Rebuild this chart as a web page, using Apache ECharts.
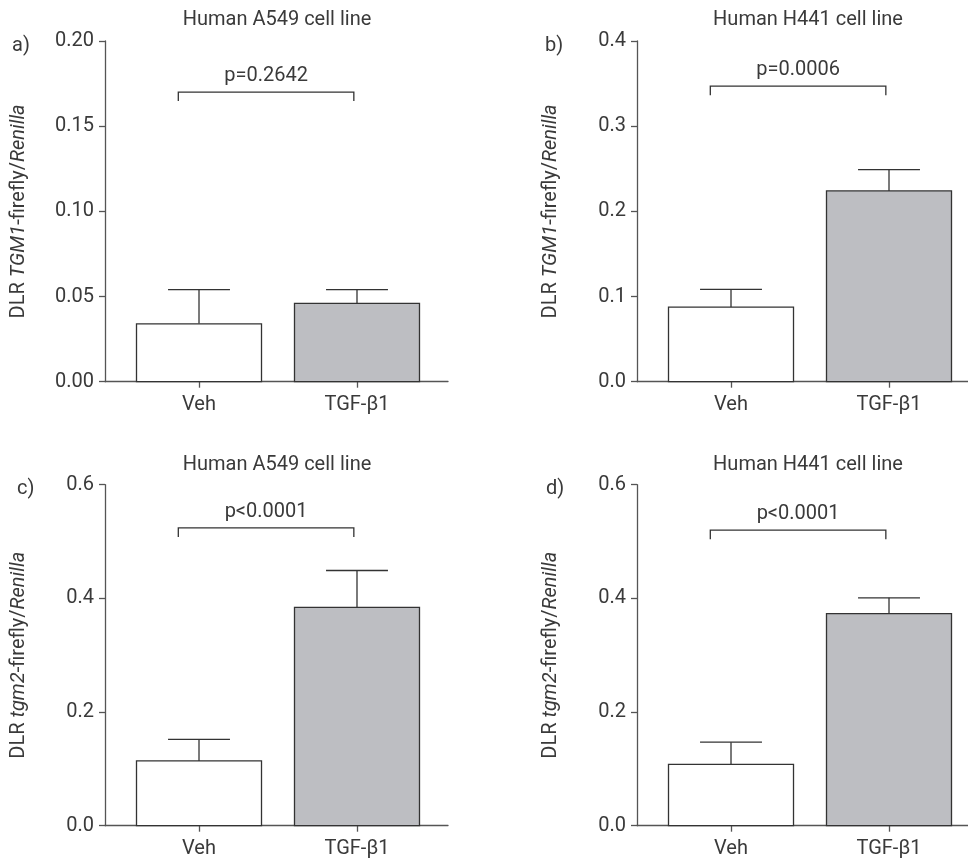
<!DOCTYPE html>
<html>
<head>
<meta charset="utf-8">
<script src="https://cdn.jsdelivr.net/npm/echarts@6/dist/echarts.min.js"></script>
<style>
html,body{margin:0;padding:0;background:#fff;}
#chart{width:968px;height:864px;}
</style>
</head>
<body>
<div id="chart"></div>
<script>
// ---- data ----
var categories = ['Veh', 'TGF-\u03B21'];
var categoryPos = [1, 2];
var panelTitles = ['Human A549 cell line', 'Human H441 cell line', 'Human A549 cell line', 'Human H441 cell line'];
var panelLetters = ['a)', 'b)', 'c)', 'd)'];
var yNames = [
  '{n|DLR }{i|TGM1}{n|-firefly/}{i|Renilla}',
  '{n|DLR }{i|TGM1}{n|-firefly/}{i|Renilla}',
  '{n|DLR }{i|tgm2}{n|-firefly/}{i|Renilla}',
  '{n|DLR }{i|tgm2}{n|-firefly/}{i|Renilla}'
];
var meanA = [0.034, 0.046];
var semA  = [0.020, 0.008];
var meanB = [0.0875, 0.224];
var semB  = [0.021, 0.025];
var meanC = [0.114, 0.384];
var semC  = [0.038, 0.065];
var meanD = [0.108, 0.373];
var semD  = [0.039, 0.028];
var yMax = [0.20, 0.4, 0.6, 0.6];
var yStep = [0.05, 0.1, 0.2, 0.2];
var yDecimals = [2, 1, 1, 1];
var pLabels = ['p=0.2642', 'p=0.0006', 'p<0.0001', 'p<0.0001'];
var bracketY = [0.170, 0.347, 0.524, 0.520];
var bracketX = [0.869, 1.980];

// ---- styles / layout ----
var FONT = 'Roboto';
var FS = 20;
var TXT = '#3a3a3a';
var AXIS = '#555555';
var EDGE = '#333333';
var FILLS = ['#ffffff', '#bdbec2'];
var BAR_HW = 0.3956;   // half bar width (axis units)
var CAP_HW = 0.196;    // half cap width (axis units)
var LEG_PX = 9;

var grids = [
  {left: 105, top: 41,    width: 343, height: 340.7},
  {left: 637, top: 41,    width: 331, height: 340.7},
  {left: 105, top: 484.7, width: 343, height: 341},
  {left: 637, top: 484.7, width: 331, height: 341}
];
var xRanges = [[0.405, 2.576], [0.405, 2.5], [0.405, 2.576], [0.405, 2.5]];
var titlePos = [[277, 10], [808, 10], [277, 454.7], [808, 454.7]];
var letterPos = [[12, 36], [545, 36], [17, 479], [546, 479]];

var means = [meanA, meanB, meanC, meanD];
var sems = [semA, semB, semC, semD];

var xAxes = [], yAxes = [], series = [], titles = [];
for (var k = 0; k < 4; k++) {
  (function (k) {
    xAxes.push({
      type: 'value', gridIndex: k, min: xRanges[k][0], max: xRanges[k][1],
      splitLine: {show: false},
      axisLine: {show: true, lineStyle: {color: AXIS, width: 1.3}},
      axisTick: {show: true, customValues: categoryPos, length: 6, lineStyle: {color: AXIS, width: 1.3}},
      axisLabel: {
        customValues: categoryPos, margin: 13,
        formatter: function (v) { return categories[Math.round(v) - 1]; },
        fontFamily: FONT, fontSize: FS, color: TXT
      }
    });
    yAxes.push({
      type: 'value', gridIndex: k, min: 0, max: yMax[k], interval: yStep[k],
      splitLine: {show: false},
      axisLine: {show: true, lineStyle: {color: AXIS, width: 1.3}},
      axisTick: {show: true, length: 6, lineStyle: {color: AXIS, width: 1.3}},
      axisLabel: {
        margin: 11, fontFamily: FONT, fontSize: FS, color: TXT,
        formatter: function (v) { return v.toFixed(yDecimals[k]); }
      },
      name: yNames[k], nameLocation: 'middle', nameGap: 76, nameRotate: 90,
      nameTextStyle: {
        fontFamily: FONT, fontSize: FS, color: TXT,
        rich: {
          n: {fontFamily: FONT, fontSize: FS, color: TXT},
          i: {fontFamily: FONT, fontSize: FS, color: TXT, fontStyle: 'italic'}
        }
      }
    });
    var barData = categoryPos.map(function (x, i) { return [x, means[k][i], sems[k][i], i]; });
    series.push({
      type: 'custom', xAxisIndex: k, yAxisIndex: k, data: barData,
      encode: {x: 0, y: 1},
      renderItem: function (params, api) {
        var x = api.value(0), m = api.value(1), s = api.value(2), i = api.value(3);
        var tl = api.coord([x - BAR_HW, m]);
        var br = api.coord([x + BAR_HW, 0]);
        var c = api.coord([x, m]);
        var t = api.coord([x, m + s]);
        var cl = api.coord([x - CAP_HW, m + s]);
        var cr = api.coord([x + CAP_HW, m + s]);
        return {
          type: 'group',
          children: [
            {type: 'line', shape: {x1: c[0], y1: c[1], x2: t[0], y2: t[1]}, style: {stroke: EDGE, lineWidth: 1.3}},
            {type: 'line', shape: {x1: cl[0], y1: cl[1], x2: cr[0], y2: cr[1]}, style: {stroke: EDGE, lineWidth: 1.3}},
            {type: 'rect', shape: {x: tl[0], y: tl[1], width: br[0] - tl[0], height: br[1] - tl[1]},
              style: {fill: FILLS[i], stroke: EDGE, lineWidth: 1.3}}
          ]
        };
      }
    });
    series.push({
      type: 'custom', xAxisIndex: k, yAxisIndex: k,
      data: [[bracketX[0], bracketX[1], bracketY[k]]],
      encode: {x: [0, 1], y: 2},
      renderItem: function (params, api) {
        var a = api.coord([api.value(0), api.value(2)]);
        var b = api.coord([api.value(1), api.value(2)]);
        return {
          type: 'group',
          children: [
            {type: 'polyline', shape: {points: [[a[0], a[1] + LEG_PX], [a[0], a[1]], [b[0], b[1]], [b[0], b[1] + LEG_PX]]},
              style: {stroke: EDGE, lineWidth: 1.3, fill: null}},
            {type: 'text', style: {text: pLabels[k], x: (a[0] + b[0]) / 2, y: a[1] - 16,
              align: 'center', verticalAlign: 'middle', fontFamily: FONT, fontSize: FS, fill: TXT}}
          ]
        };
      }
    });
    titles.push({
      text: panelTitles[k], left: titlePos[k][0], top: titlePos[k][1], textAlign: 'center', padding: 0,
      textStyle: {fontFamily: FONT, fontSize: FS, fontWeight: 'normal', color: TXT}
    });
    titles.push({
      text: panelLetters[k], left: letterPos[k][0], top: letterPos[k][1], padding: 0,
      textStyle: {fontFamily: FONT, fontSize: FS, fontWeight: 'normal', color: TXT}
    });
  })(k);
}

var chart = echarts.init(document.getElementById('chart'), null, {renderer: 'canvas'});
chart.setOption({
  animation: false,
  backgroundColor: '#ffffff',
  title: titles,
  grid: grids,
  xAxis: xAxes,
  yAxis: yAxes,
  series: series
});
</script>
</body>
</html>
